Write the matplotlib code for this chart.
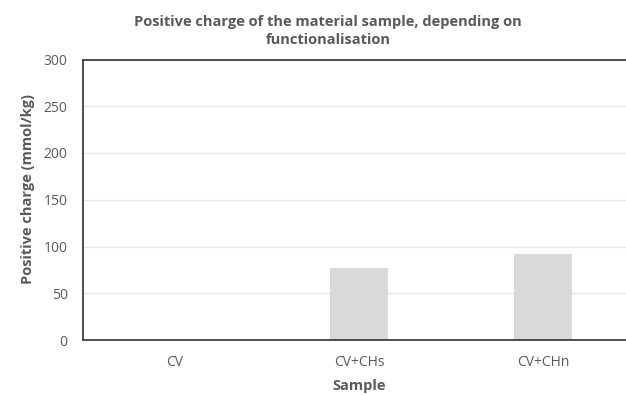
import matplotlib.pyplot as plt
import numpy as np

samples = ["CV", "CV+CHs", "CV+CHn"]
charge = [0, 77, 92]
y_ticks = [0, 50, 100, 150, 200, 250, 300]

plt.rcParams["font.family"] = ["Open Sans", "DejaVu Sans"]
text_color = "#595959"

fig = plt.figure(figsize=(6.26, 3.95), dpi=100)
ax = fig.add_axes([83 / 626, 1 - 340 / 395, 552 / 626, 280.5 / 395])

x = np.arange(len(samples))
ax.bar(x, charge, width=0.32, color="#d9d9d9", zorder=2)

ax.set_xlim(-0.5, 2.5)
ax.set_ylim(0, 300)
ax.set_yticks(y_ticks)
ax.set_xticks(x)
ax.set_xticklabels(samples)

# gridlines
ax.yaxis.grid(True, color="#e8e8e8", linewidth=1, zorder=0)
ax.set_axisbelow(True)

for side in ["left", "top", "bottom"]:
    ax.spines[side].set_color("#404040")
    ax.spines[side].set_linewidth(1.3)
ax.spines["right"].set_visible(False)

ax.tick_params(axis="both", length=0, labelsize=10, colors=text_color)
ax.tick_params(axis="y", pad=11)
ax.tick_params(axis="x", pad=11)

ax.set_ylabel("Positive charge (mmol/kg)", fontsize=10.5, fontweight="bold",
              color=text_color)
ax.yaxis.set_label_coords(-48 / 552, 0.54)
ax.set_xlabel("Sample", fontsize=10.5, fontweight="bold", color=text_color,
              labelpad=6)

fig.text(328 / 626, 1 - 31 / 395,
         "Positive charge of the material sample, depending on\nfunctionalisation",
         ha="center", va="center", fontsize=10.5, fontweight="bold",
         color=text_color, linespacing=1.35)

fig.savefig("out.png", dpi=100)
